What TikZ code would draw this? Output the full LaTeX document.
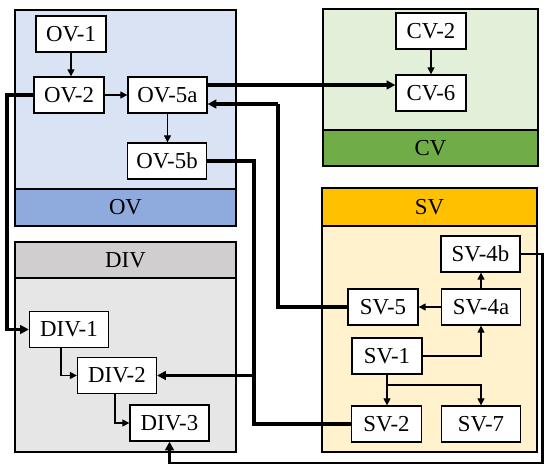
\documentclass[tikz,border=0pt]{standalone}
\usepackage{fontspec}
\setmainfont{Liberation Serif}
\usetikzlibrary{arrows.meta,positioning,calc}
\definecolor{ovfill}{HTML}{DAE3F3}
\definecolor{ovband}{HTML}{8FAADC}
\definecolor{cvfill}{HTML}{E2F0D9}
\definecolor{cvband}{HTML}{70AD47}
\definecolor{svfill}{HTML}{FFF2CC}
\definecolor{svband}{HTML}{FFC000}
\definecolor{divfill}{HTML}{E7E6E6}
\definecolor{divband}{HTML}{D0CECE}

\begin{document}
\begin{tikzpicture}[x=0.02cm, y=-0.02cm,
  txt/.style={font=\fontsize{13}{15}\selectfont},
  box/.style={txt, draw, fill=white, line width=0.75pt, minimum width=1.4cm, minimum height=0.72cm, inner sep=0pt},
  wide/.style={box, minimum width=1.58cm},
  panel/.style={draw, line width=0.9pt},
  flow/.style={line width=0.75pt, -{Triangle[length=4pt,width=4pt]}},
  link/.style={line width=2.2pt},
  linkarrow/.style={link, -{Triangle[length=5pt,width=5pt]}}]
\useasboundingbox (0,0) rectangle (550,469);

% --- OV panel ---
\draw[panel, fill=ovfill] (15,10) rectangle (236,226);
\draw[panel, fill=ovband] (15,189) rectangle (236,226);
\node[txt] (ovname) at (125.5,207.5) {OV};
\node[box] (ov1) at (71,34) {OV-1};
\node[box] (ov2) at (69,95) {OV-2};
\node[wide] (ov5a) at (167.5,95) {OV-5a};
\node[wide] (ov5b) at (167,161) {OV-5b};

% --- CV panel ---
\draw[panel, fill=cvfill] (323,9) rectangle (538,166);
\draw[panel, fill=cvband] (323,130) rectangle (538,166);
\node[txt] (cvname) at (430.5,148) {CV};
\node[box] (cv2) at (431,31) {CV-2};
\node[box] (cv6) at (431,93) {CV-6};

% --- SV panel ---
\draw[panel, fill=svfill] (322,188) rectangle (537,452);
\draw[panel, fill=svband] (322,188) rectangle (537,226);
\node[txt] (svname) at (429.5,207) {SV};
\node[wide] (sv4b) at (480.5,254) {SV-4b};
\node[wide] (sv4a) at (481,307) {SV-4a};
\node[box] (sv5) at (383,307) {SV-5};
\node[box] (sv1) at (387,356) {SV-1};
\node[box] (sv2) at (386.5,424) {SV-2};
\node[wide] (sv7) at (481,424) {SV-7};

% --- DIV panel ---
\draw[panel, fill=divfill] (15,242) rectangle (236,452);
\draw[panel, fill=divband] (15,242) rectangle (236,278);
\node[txt] (divname) at (125.5,260) {DIV};
\node[wide] (div1) at (69,329.5) {DIV-1};
\node[wide] (div2) at (117,375.5) {DIV-2};
\node[wide] (div3) at (169.5,423) {DIV-3};

% routing points
\coordinate (lft) at (7,0);
\coordinate (mid) at (254,0);
\coordinate (back) at (278,104);
\coordinate (rgt) at (542,463);
\coordinate (fork) at (387,385);

% --- inner flows ---
\draw[flow] (ov1) -- (ov1 |- ov2.north);
\draw[flow] (ov2) -- (ov5a);
\draw[flow] (ov5a) -- (ov5a |- ov5b.north);
\draw[flow] (cv2) -- (cv6);
\draw[flow] (sv4a) -- (sv5);
\draw[flow] (sv4a) -- (sv4a |- sv4b.south);
\draw[flow] (sv1.east) -| (sv4a.south);
\draw[flow] (sv1.south) -- (sv1.south |- sv2.north);
\draw[flow] (fork) -| (sv7.north);
\draw[flow] ($(div1.south)+(-8,0)$) |- (div2.west);
\draw[flow] ($(div2.south)+(-2,0)$) |- (div3.west);

% --- links between panels ---
\draw[linkarrow] (ov5a.east |- 0,85) -- (cv6.west |- 0,85);
\draw[link] (sv5.west) -| (back);
\draw[linkarrow] (back) -- (ov5a.east |- back);
\draw[linkarrow] (ov2.west) -- (ov2.west -| lft) |- (div1.west);
\draw[link] (ov5b.east) -- (ov5b.east -| mid) |- (sv2.west);
\draw[linkarrow] (mid |- div2.east) -- (div2.east);
\draw[line width=1.7pt, -{Triangle[length=5pt,width=5pt]}] (sv4b.east) -| (rgt) -| (div3.south);
\end{tikzpicture}
\end{document}
